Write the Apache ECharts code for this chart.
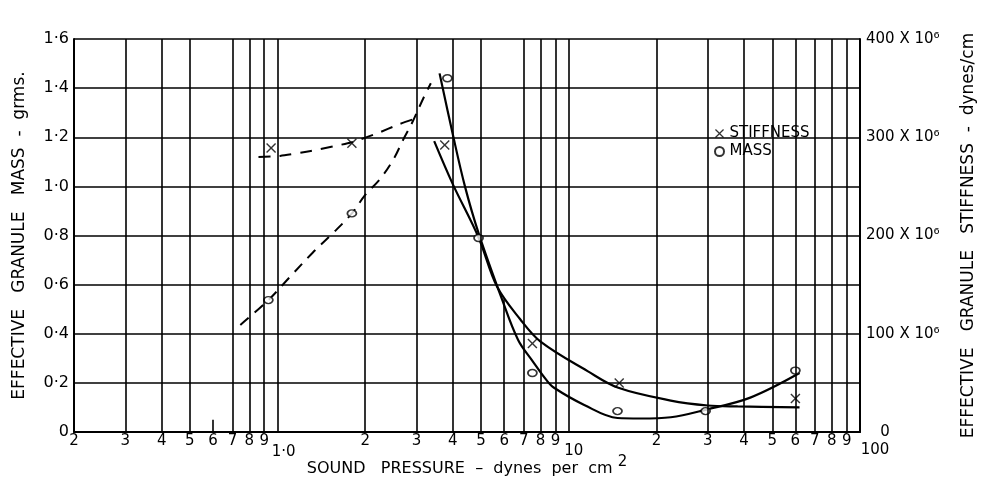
<!DOCTYPE html>
<html>
<head>
<meta charset="utf-8">
<script src="https://cdn.jsdelivr.net/npm/echarts@6/dist/echarts.min.js"></script>
<style>
    html,body{margin:0;padding:0;background:#fff;}
    #chart{width:989px;height:482px;}
</style>
</head>
<body>
<div id="chart"></div>
<script>
    // log grid lines of the sound pressure axis (dynes per cm2)
    var xTicks = [0.2,0.3,0.4,0.5,0.6,0.7,0.8,0.9,1,2,3,4,5,6,7,8,9,10,20,30,40,50,60,70,80,90,100]
    var xTickLabels = ['2','3','4','5','6','7','8','9','1·0','2','3','4','5','6','7','8','9','10','2','3','4','5','6','7','8','9','100']

    // mass curve (grms) - dashed rise, solid fall
    var massDashX = [0.745,0.93,1.1,1.32,1.55,1.8,2.0,2.25,2.5,2.7,2.9,3.17,3.36]
    var massDashY = [0.436,0.537,0.63,0.73,0.81,0.89,0.965,1.03,1.11,1.19,1.26,1.36,1.42]
    var massLineX = [3.6,4.0,4.4,4.9,5.9,6.7,7.5,8.4,8.9,11.3,14.7,17.6,22.4,29.4,42,62]
    var massLineY = [1.46,1.21,1.0,0.81,0.54,0.375,0.29,0.21,0.18,0.11,0.057,0.055,0.06,0.09,0.14,0.24]
    // measured mass points
    var massX = [0.93,1.8,3.83,4.9,7.5,14.7,29.5,60]
    var massY = [0.537,0.89,1.44,0.79,0.24,0.085,0.085,0.25]

    // stiffness curve (x 10^6 dynes/cm)
    var stiffDashX = [0.86,1.02,1.3,1.8,2.2,2.6,2.9]
    var stiffDashY = [280,281,286,295,304,313,318]
    var stiffLineX = [3.45,4.0,4.9,5.67,6.8,8.0,11.6,14.8,22.4,30,38,62]
    var stiffLineY = [296,252,198,148,115,92,62,45,32,27,26,25]
    // measured stiffness points
    var stiffX = [0.95,1.8,3.75,7.5,14.9,60]
    var stiffY = [289,294,292,90,50,34]

    var FONT = 'DejaVu Sans'
    var crossIcon = 'path://M0,1L1,0L5,4L9,0L10,1L6,5L10,9L9,10L5,6L1,10L0,9L4,5Z'

    function zip(xs, ys){
        return xs.map(function(x, i){ return [x, ys[i]] })
    }

    var vLines = []
    xTicks.map(function(v, i){
        var lab = {formatter: xTickLabels[i], distance: 2}
        if(v == 1) lab = {formatter: xTickLabels[i], distance: 13, padding: [0,0,0,12]}
        if(v == 10) lab = {formatter: xTickLabels[i], distance: 12, padding: [0,0,0,10]}
        if(v == 100) lab = {formatter: xTickLabels[i], distance: 11, padding: [0,0,0,30]}
        if(v == 0.6){
            vLines.push([{coord:[v,0], label: lab},{coord:[v,0.05]}])
        }else if(v == 6){
            vLines.push([{coord:[v,0], label: lab},{coord:[v,0.54]}])
        }else{
            vLines.push({xAxis: v, label: lab})
        }
    })

    var lineBase = {
        type: 'line',
        smooth: 0.35,
        showSymbol: false,
        silent: true,
        z: 3
    }

    var option = {
        animation: false,
        backgroundColor: '#fff',
        textStyle: {fontFamily: FONT},
        grid: {
            left: 74,
            right: 129,
            top: 39,
            bottom: 50,
            outerBoundsMode: 'none',
            containLabel: false
        },
        legend: {
            orient: 'vertical',
            left: 709,
            top: 121,
            itemGap: 3,
            itemWidth: 10,
            itemHeight: 9,
            selectedMode: false,
            data: [
                {name: 'STIFFNESS', icon: crossIcon},
                {name: 'MASS', icon: 'circle'}
            ],
            textStyle: {fontFamily: FONT, fontSize: 15, color: '#000'}
        },
        xAxis: {
            type: 'log',
            logBase: 10,
            min: 0.2,
            max: 100,
            name: '{a|SOUND   PRESSURE  –  dynes  per  cm }{s|2}',
            nameLocation: 'middle',
            nameGap: 23,
            nameTextStyle: {
                rich: {
                    a: {fontFamily: FONT, fontSize: 16, color: '#000', lineHeight: 22, verticalAlign: 'bottom'},
                    s: {fontFamily: FONT, fontSize: 15, color: '#000', lineHeight: 22, verticalAlign: 'top', padding: [0,0,10,0]}
                }
            },
            axisLine: {show: true, onZero: false, lineStyle: {color: '#000', width: 2}},
            axisTick: {show: false},
            axisLabel: {show: false},
            splitLine: {show: false},
            minorTick: {show: false}
        },
        yAxis: [
            {
                type: 'value',
                min: 0,
                max: 1.6,
                interval: 0.2,
                name: 'EFFECTIVE   GRANULE   MASS  -  grms.',
                nameLocation: 'middle',
                nameGap: 46,
                nameTextStyle: {fontFamily: FONT, fontSize: 17, color: '#000'},
                axisLine: {show: true, lineStyle: {color: '#000', width: 2}},
                axisTick: {show: false},
                axisLabel: {
                    fontFamily: FONT,
                    fontSize: 16,
                    color: '#000',
                    margin: 5,
                    formatter: function(v){
                        if(v == 0) return '0'
                        return v.toFixed(1).replace('.', '·')
                    }
                },
                splitLine: {show: true, lineStyle: {color: '#000', width: 1.6}}
            },
            {
                type: 'value',
                min: 0,
                max: 400,
                interval: 100,
                position: 'right',
                name: 'EFFECTIVE   GRANULE   STIFFNESS  -  dynes/cm',
                nameLocation: 'middle',
                nameGap: 100,
                nameTextStyle: {fontFamily: FONT, fontSize: 17, color: '#000'},
                axisLine: {show: true, lineStyle: {color: '#000', width: 2}},
                axisTick: {show: false},
                axisLabel: {
                    fontFamily: FONT,
                    fontSize: 15,
                    color: '#000',
                    margin: 6,
                    formatter: function(v){
                        if(v == 0) return '   0'
                        return v + ' X 10⁶'
                    }
                },
                splitLine: {show: false}
            }
        ],
        series: [
            Object.assign({}, lineBase, {
                name: 'massDash',
                data: zip(massDashX, massDashY),
                lineStyle: {color: '#000', width: 2, type: [11, 8]},
                markLine: {
                    silent: true,
                    symbol: 'none',
                    animation: false,
                    lineStyle: {color: '#000', width: 1.6, type: 'solid'},
                    label: {
                        show: true,
                        position: 'start',
                        fontFamily: FONT,
                        fontSize: 15,
                        color: '#000'
                    },
                    emphasis: {disabled: true},
                    data: vLines
                }
            }),
            Object.assign({}, lineBase, {
                name: 'massLine',
                data: zip(massLineX, massLineY),
                lineStyle: {color: '#000', width: 2.2}
            }),
            Object.assign({}, lineBase, {
                name: 'stiffDash',
                yAxisIndex: 1,
                smooth: 0.2,
                data: zip(stiffDashX, stiffDashY),
                lineStyle: {color: '#000', width: 2, type: [12, 9]}
            }),
            Object.assign({}, lineBase, {
                name: 'stiffLine',
                yAxisIndex: 1,
                data: zip(stiffLineX, stiffLineY),
                lineStyle: {color: '#000', width: 2.2}
            }),
            {
                name: 'STIFFNESS',
                type: 'scatter',
                yAxisIndex: 1,
                symbol: crossIcon,
                symbolSize: 10,
                itemStyle: {color: '#000'},
                data: zip(stiffX, stiffY),
                z: 4
            },
            {
                name: 'MASS',
                type: 'scatter',
                symbol: 'circle',
                symbolSize: [9, 7],
                itemStyle: {color: '#fff', borderColor: '#000', borderWidth: 1.6},
                data: zip(massX, massY),
                z: 4
            }
        ]
    }

    var myChart = echarts.init(document.getElementById('chart'))
    myChart.setOption(option)
</script>
</body>
</html>
